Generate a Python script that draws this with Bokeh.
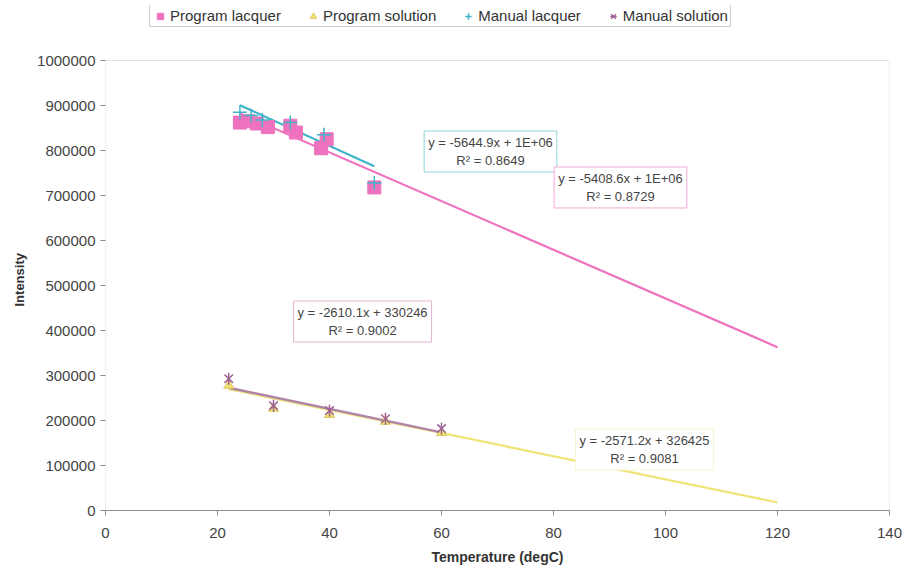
import numpy as np
from bokeh.plotting import figure
from bokeh.models import (Label, Legend, LegendItem, FixedTicker, NumeralTickFormatter,
                          BoxAnnotation, Title)
from bokeh.embed import file_html
from bokeh.resources import INLINE

# ---- data ----
prog_lacq_x = [24, 25.5, 27, 29, 33, 34, 38.5, 39.5, 48]
prog_lacq_y = [862000, 865000, 860000, 852000, 855000, 840000, 805000, 825000, 718000]
prog_sol_x = [22, 30, 40, 50, 60]
prog_sol_y = [278000, 227000, 213000, 198000, 173000]
man_lacq_x = [24, 26, 28, 33, 39, 48]
man_lacq_y = [885000, 878000, 868000, 862000, 835000, 728000]
man_sol_x = [22, 30, 40, 50, 60]
man_sol_y = [293000, 233000, 222000, 204000, 182000]

# trendlines: slope, intercept, x-range
trend_prog_lacq = (-5408.6, 1012000, 24, 120)
trend_man_lacq = (-5644.9, 1036000, 24, 48)
trend_prog_sol = (-2571.2, 326425, 22, 120)
trend_man_sol = (-2610.1, 330246, 22, 60)

eq_prog_lacq = "y = -5408.6x + 1E+06\nR² = 0.8729"
eq_man_lacq = "y = -5644.9x + 1E+06\nR² = 0.8649"
eq_prog_sol = "y = -2571.2x + 326425\nR² = 0.9081"
eq_man_sol = "y = -2610.1x + 330246\nR² = 0.9002"

x_ticks = [0, 20, 40, 60, 80, 100, 120, 140]
y_ticks = [0, 100000, 200000, 300000, 400000, 500000, 600000, 700000, 800000, 900000, 1000000]

PINK = "#EE72BE"
CYAN = "#40B4C8"
YELLOW = "#EEE474"
PURPLE = "#9E6294"
PURPLE_LINE = "#B084A8"
FONT = "Liberation Sans"

# frame spans from screen y=5 to y=510; plot area (0..1e6) occupies 60..510
Y_MAX = y_ticks[-1]
y_top = Y_MAX * (510 - 5) / (510 - 60)

p = figure(width=920, height=570, output_backend="svg", toolbar_location=None,
           x_range=(x_ticks[0], x_ticks[-1]), y_range=(0, y_top),
           min_border_left=105, min_border_right=31, min_border_top=5, min_border_bottom=60)
p.background_fill_color = "white"
p.border_fill_color = "white"
p.outline_line_color = None
p.xgrid.visible = False
p.ygrid.visible = False

# plot-area border
p.add_layout(BoxAnnotation(bottom=0, top=Y_MAX, fill_alpha=0, fill_color=None,
                           line_color="#9a9a9a", line_width=1.2))

for ax in (p.xaxis[0], p.yaxis[0]):
    ax.axis_line_color = "#8a8a8a"
    ax.major_tick_line_color = "#8a8a8a"
    ax.major_tick_out = 5
    ax.major_tick_in = 0
    ax.minor_tick_line_color = None
    ax.major_label_text_font = FONT
    ax.major_label_text_font_size = "15px"
    ax.major_label_text_color = "#444444"
    ax.axis_label_text_font = FONT
    ax.axis_label_text_font_size = "14px"
    ax.axis_label_text_font_style = "bold"
    ax.axis_label_text_color = "#333333"

p.yaxis.axis_line_color = None
p.xaxis.ticker = FixedTicker(ticks=x_ticks)
p.yaxis.ticker = FixedTicker(ticks=y_ticks)
p.yaxis.formatter = NumeralTickFormatter(format="0")
p.xaxis.axis_label = "Temperature (degC)"
p.xaxis.major_label_standoff = 12
p.yaxis.major_label_standoff = 5
p.xaxis.axis_label_standoff = 8

ytitle = Title(text="Intensity", align="left", offset=204, text_font=FONT,
               text_font_size="13px", text_font_style="bold", text_color="#333333",
               standoff=16)
p.add_layout(ytitle, "left")


def trend(t):
    m, b, x0, x1 = t
    xs = np.array([x0, x1], dtype=float)
    return xs, m * xs + b


# trendlines
xs, ys = trend(trend_prog_sol)
p.line(xs, ys, line_color=YELLOW, line_width=2.2)
xs, ys = trend(trend_prog_lacq)
p.line(xs, ys, line_color=PINK, line_width=2.2)
xs, ys = trend(trend_man_lacq)
p.line(xs, ys, line_color=CYAN, line_width=2.2)
xs, ys = trend(trend_man_sol)
p.line(xs, ys, line_color=PURPLE_LINE, line_width=2.5)

# markers
r_pl = p.scatter(prog_lacq_x, prog_lacq_y, marker="square", size=13,
                 fill_color=PINK, line_color=PINK)
r_ps = p.scatter(prog_sol_x, prog_sol_y, marker="triangle", size=10,
                 fill_color=YELLOW, line_color="#E0C860")
r_ml = p.scatter(man_lacq_x, man_lacq_y, marker="cross", size=14,
                 line_color=CYAN, line_width=1.5)
r_ms = p.scatter(man_sol_x, man_sol_y, marker="x", size=12,
                 line_color=PURPLE, line_width=1.5)
r_ms2 = p.scatter(man_sol_x, man_sol_y, marker="dash", size=12, angle=np.pi / 2,
                  line_color=PURPLE, line_width=1.5)

legend = Legend(items=[
    LegendItem(label="Program lacquer", renderers=[r_pl]),
    LegendItem(label="Program solution", renderers=[r_ps]),
    LegendItem(label="Manual lacquer", renderers=[r_ml]),
    LegendItem(label="Manual solution", renderers=[r_ms, r_ms2]),
], orientation="horizontal", location=(44, 483))
legend.label_text_font = FONT
legend.label_text_font_size = "15px"
legend.label_text_color = "#333333"
legend.glyph_width = 16
legend.glyph_height = 16
legend.label_standoff = 2
legend.spacing = 24
legend.padding = 2
legend.margin = 0
legend.label_height = 14
legend.border_line_color = "#999999"
legend.background_fill_color = "white"
p.add_layout(legend, "center")


def eq_label(x, y, text, border):
    lab = Label(x=x, y=y, text=text, text_align="center", text_baseline="middle",
                text_font=FONT, text_font_size="13px", text_color="#444444",
                background_fill_color="white", border_line_color=border,
                border_line_width=1, padding=4)
    p.add_layout(lab)


eq_label(68.75, 797800, eq_man_lacq, "#8ED4DE")
eq_label(91.96, 717800, eq_prog_lacq, "#F4A8D6")
eq_label(45.9, 420000, eq_man_sol, "#E4B4D0")
eq_label(96.25, 135600, eq_prog_sol, "#F8F4D0")

open("out.html", "w").write(file_html(p, INLINE))
